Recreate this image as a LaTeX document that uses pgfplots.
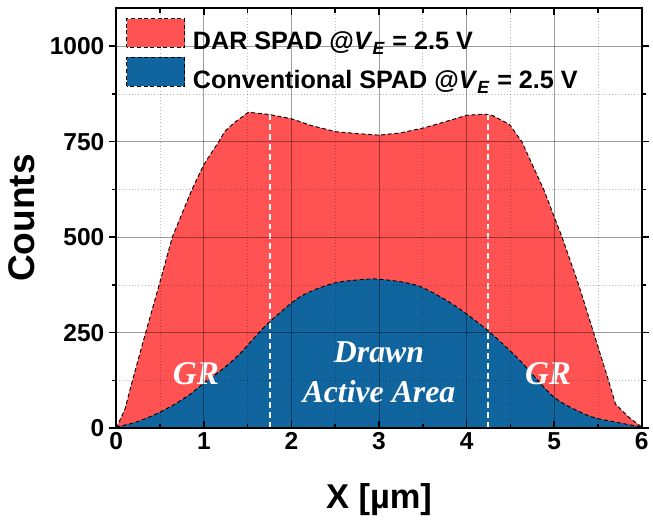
\documentclass[border=0pt]{standalone}
\usepackage{pgfplots}
\pgfplotsset{compat=1.18}
\usepackage{fontspec}
\setmainfont{Liberation Sans}
\newfontfamily\tnr{Liberation Serif}
\definecolor{darred}{RGB}{255,82,83}
\definecolor{convblue}{RGB}{16,101,159}
\pgfplotsset{myleg/.style={legend image code/.code={\draw[##1] (0pt,-4.1pt) rectangle (43.5pt,17.7pt);\path (49.5pt,0pt);}}}
\begin{document}
\begin{tikzpicture}
\begin{axis}[
  name=ax,
  width=396.75pt, height=317.25pt, scale only axis,
  xmin=0, xmax=6, ymin=0, ymax=1100,
  xtick={0,1,2,3,4,5,6}, ytick={0,250,500,750,1000},
  minor x tick num=1, minor y tick num=1,
  grid=both,
  major grid style={black, opacity=0.38, line width=0.6pt},
  minor grid style={black, opacity=0.28, dotted, line width=0.6pt},
  axis on top,
  xtick align=inside, ytick align=outside,
  major tick length=5.5pt, minor tick length=3.5pt,
  every tick/.style={black, line width=1.1pt},
  axis line style={black, line width=1.4pt},
  /pgf/number format/assume math mode=true,
  /pgf/number format/1000 sep={},
  ticklabel style={font=\fontsize{18.5}{18.5}\selectfont\bfseries},
  xlabel={X [µm]},
  ylabel={Counts},
  xlabel style={font=\fontsize{26}{26}\selectfont\bfseries, at={(axis description cs:0.5,-0.19)}, anchor=base},
  ylabel style={font=\fontsize{28}{28}\selectfont\bfseries, at={(axis description cs:-0.18,0.5)}, anchor=center},
  legend style={at={(0,1)}, anchor=north west, xshift=7.5pt, yshift=-7.5pt, inner sep=0pt,
    draw=none, fill=none, font=\fontsize{19}{19}\selectfont\bfseries,
    row sep=3.7pt, nodes={inner sep=0pt}},
  legend cell align=left,
]
\addplot[fill=darred, draw=black, densely dashed, line width=0.7pt, myleg]
  coordinates {(0,0)(0.1,50)(0.185,125)(0.336,250)(0.49,375)(0.64,500)(0.865,625)(1.0,690)(1.17,750)(1.24,777)(1.35,800)(1.51,827)(1.75,821)(2.0,810)(2.23,792)(2.51,776)(2.76,771)(3.0,767)(3.25,773)(3.51,786)(3.74,801)(4.0,819)(4.21,822)(4.3,818)(4.49,795)(4.63,750)(4.88,625)(5.09,500)(5.28,375)(5.45,250)(5.62,125)(5.70,63)(5.85,29)(6.0,3)} \closedcycle;
\addlegendentry{DAR SPAD @\textit{V}\textsubscript{\textit{E}} = 2.5 V}
\addplot[fill=convblue, draw=black, densely dashed, line width=0.7pt, smooth, myleg]
  coordinates {(0,3)(0.2,14)(0.375,29)(0.5,42)(0.67,63)(0.85,90)(1.0,118)(1.2,152)(1.40,192)(1.57,235)(1.75,278)(2.10,344)(2.46,378)(2.75,388)(3.0,390)(3.43,374)(3.83,326)(4.24,256)(4.61,177)(5.0,81)(5.39,33)(5.70,16)(6.0,3)} \closedcycle;
\addlegendentry{Conventional SPAD @\textit{V}\textsubscript{\textit{E}} = 2.5 V}
\addplot[white, line width=1.5pt, dash pattern=on 4.5pt off 3pt, forget plot] coordinates {(1.75,0)(1.75,821)};
\addplot[white, line width=1.5pt, dash pattern=on 4.5pt off 3pt, forget plot] coordinates {(4.25,0)(4.25,821)};
\node[text=white, font=\fontsize{25}{25}\selectfont\tnr\bfseries\itshape] at (axis cs:0.91,142) {GR};
\node[text=white, font=\fontsize{25}{25}\selectfont\tnr\bfseries\itshape] at (axis cs:4.93,142) {GR};
\node[text=white, font=\fontsize{24}{30}\selectfont\tnr\bfseries\itshape, align=center] at (axis cs:3.0,146) {Drawn\\Active Area};
\end{axis}
\path (ax.south west) ++(-87.75pt,-64.5pt);
\path (ax.north east) ++(5.25pt,6pt);
\end{tikzpicture}
\end{document}
